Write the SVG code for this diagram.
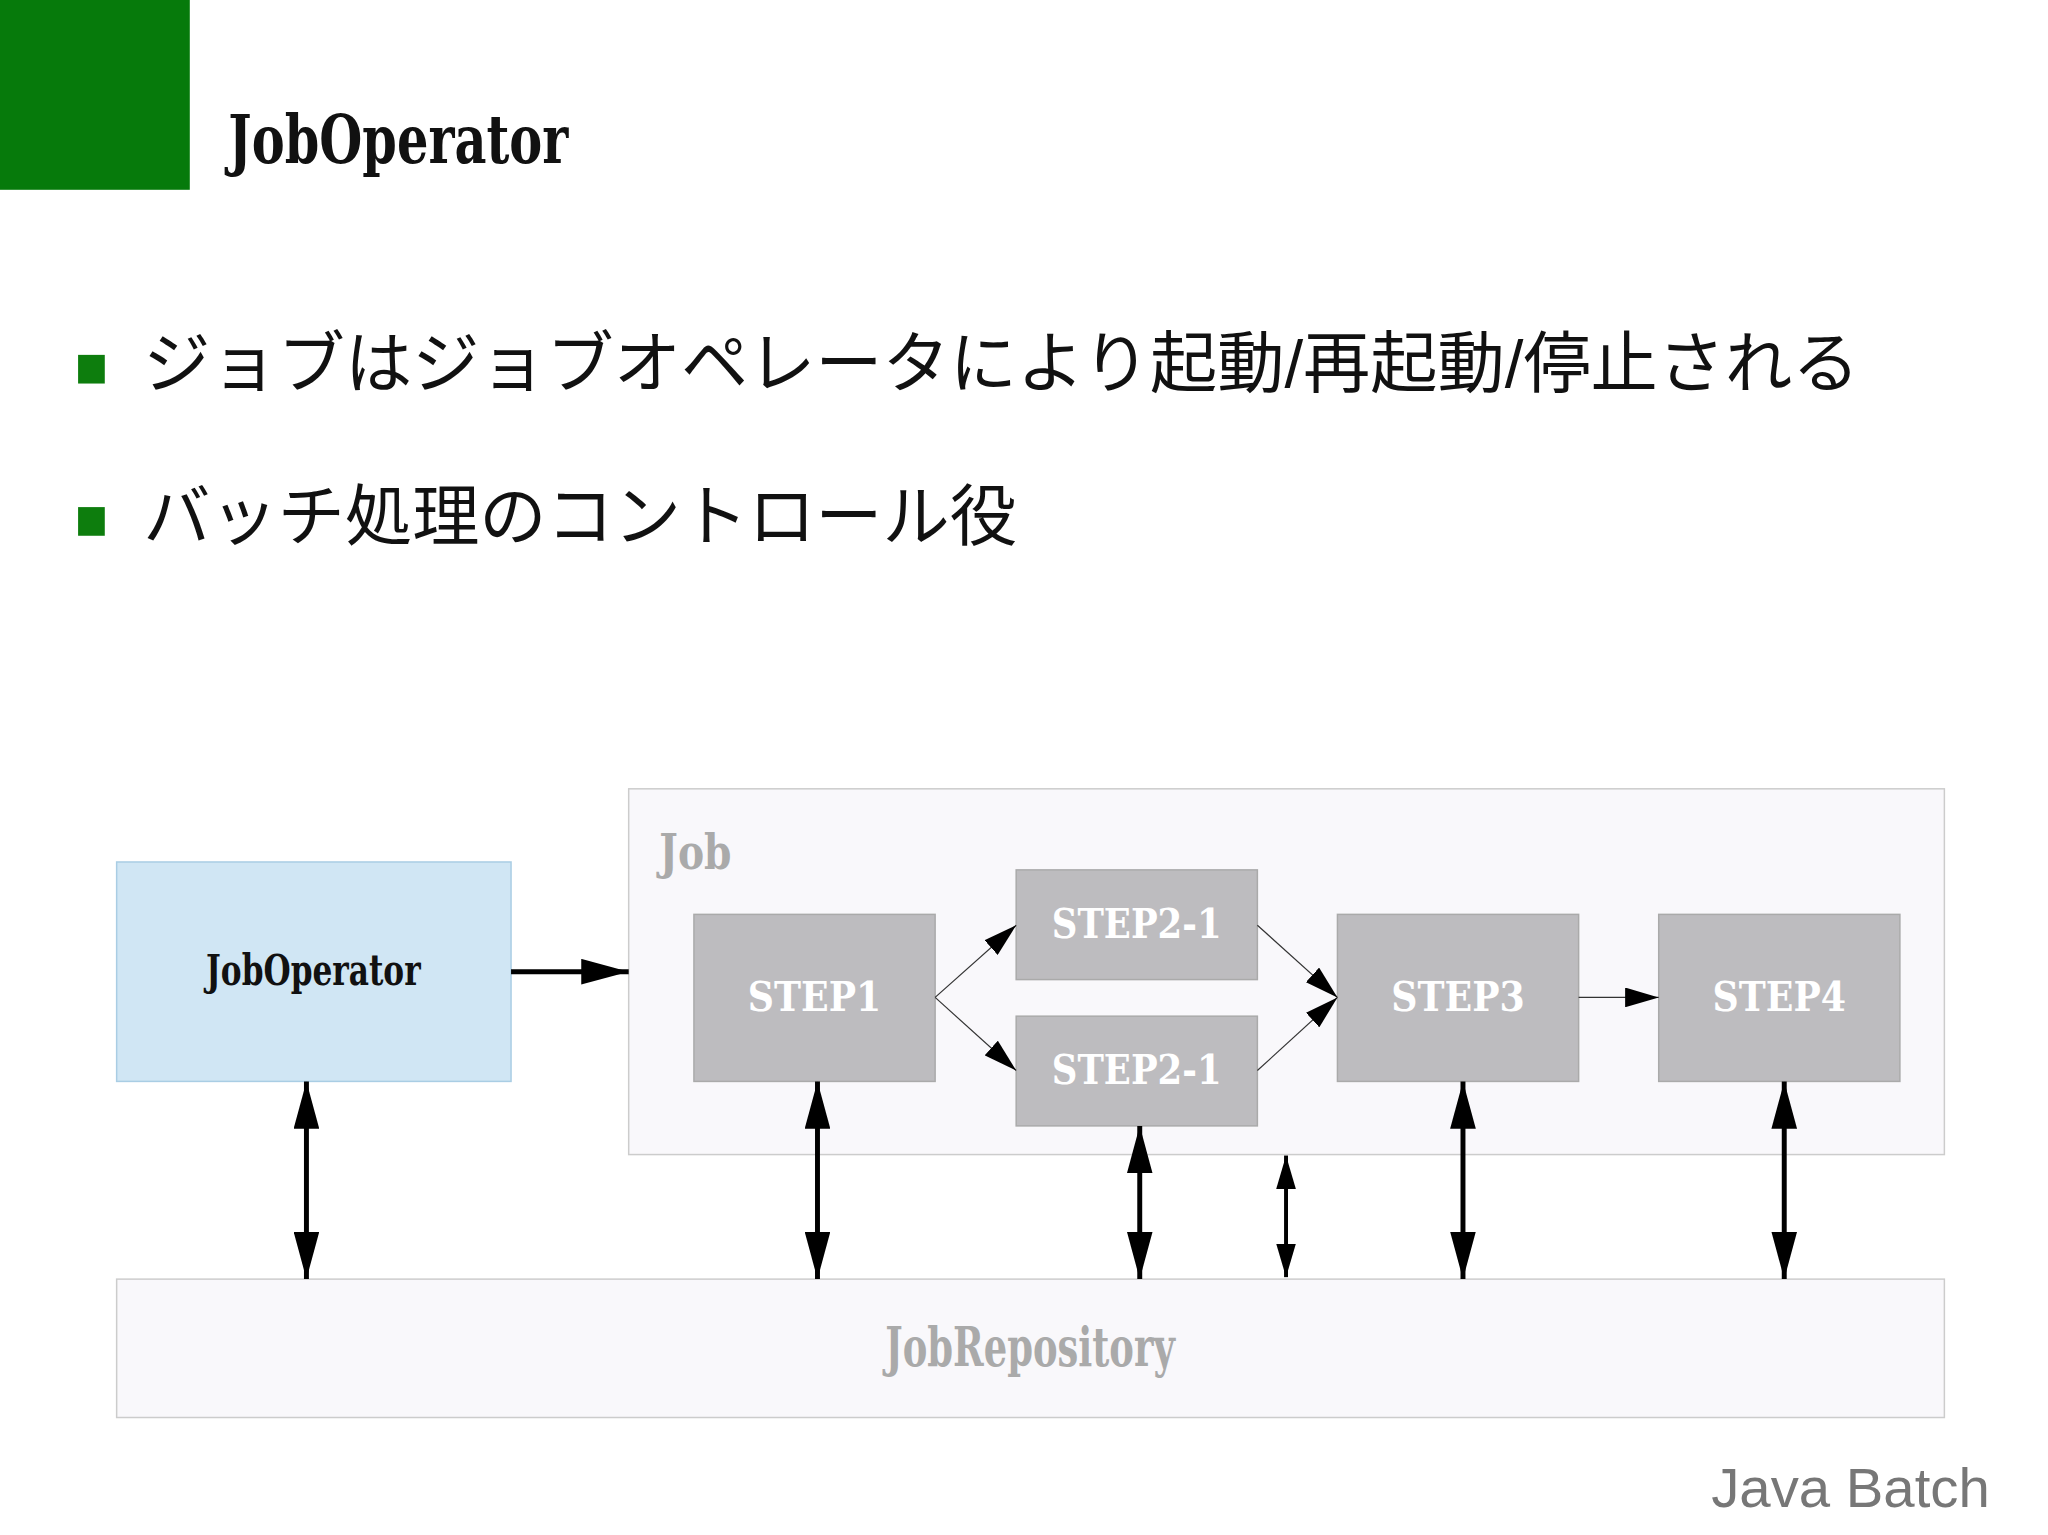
<svg xmlns="http://www.w3.org/2000/svg" width="2048" height="1535" viewBox="0 0 2048 1535">
<style>
.bl{font-family:"DejaVu Serif","Liberation Serif",serif;font-weight:bold}
.jp{font-family:"Liberation Sans","Noto Sans CJK JP",sans-serif;font-size:68px;fill:#111}
.step{fill:#bdbcbf;stroke:#aaa;stroke-width:1.5}
.st{font-family:"DejaVu Serif","Liberation Serif",serif;font-weight:bold;font-size:42px;fill:#fff;text-anchor:middle}
.thick{stroke:#000;stroke-width:5;fill:none}
.thin{stroke:#333;stroke-width:1.2;fill:none}
</style>
<defs>
<marker id="big" viewBox="0 0 48 26" refX="48" refY="13" markerWidth="48" markerHeight="26" markerUnits="userSpaceOnUse" orient="auto-start-reverse"><path d="M0,0L48,13L0,26z" fill="#000"/></marker>
<marker id="sm" viewBox="0 0 34 20" refX="34" refY="10" markerWidth="34" markerHeight="20" markerUnits="userSpaceOnUse" orient="auto-start-reverse"><path d="M0,0L34,10L0,20z" fill="#000"/></marker>
</defs>
<rect width="2048" height="1535" fill="#fff"/>
<g transform="scale(0.9885)">
<rect x="0" y="0" width="192" height="192" fill="#067a0b"/>
<text x="231" y="165" class="bl" font-size="68" fill="#111" textLength="344" lengthAdjust="spacingAndGlyphs">JobOperator</text>
<rect x="79" y="359" width="27" height="29" fill="#0d7d0d"/>
<text x="145" y="392" class="jp">ジョブはジョブオペレータにより起動/再起動/停止される</text>
<rect x="79" y="513" width="27" height="29" fill="#0d7d0d"/>
<text x="145" y="546" class="jp">バッチ処理のコントロール役</text>
<g id="job"><rect x="636" y="798" width="1331" height="370" fill="#f9f8fb" stroke="#ccc" stroke-width="1.5"/>
<text x="667" y="879" class="bl" font-size="50" fill="#aaa" textLength="73" lengthAdjust="spacingAndGlyphs">Job</text></g>
<g id="jobop"><rect x="118" y="872" width="399" height="222" fill="#d0e6f4" stroke="#a9cde4" stroke-width="1.5"/>
<text x="317" y="996" class="bl" font-size="44" fill="#111" text-anchor="middle" textLength="217" lengthAdjust="spacingAndGlyphs">JobOperator</text></g>
<g id="step1"><rect x="702" y="925" width="244" height="169" class="step"/><text x="824" y="1023" class="st" textLength="135" lengthAdjust="spacingAndGlyphs">STEP1</text></g>
<g id="step21a"><rect x="1028" y="880" width="244" height="111" class="step"/><text x="1150" y="949" class="st" textLength="172" lengthAdjust="spacingAndGlyphs">STEP2-1</text></g>
<g id="step21b"><rect x="1028" y="1028" width="244" height="111" class="step"/><text x="1150" y="1097" class="st" textLength="172" lengthAdjust="spacingAndGlyphs">STEP2-1</text></g>
<g id="step3"><rect x="1353" y="925" width="244" height="169" class="step"/><text x="1475" y="1023" class="st" textLength="135" lengthAdjust="spacingAndGlyphs">STEP3</text></g>
<g id="step4"><rect x="1678" y="925" width="244" height="169" class="step"/><text x="1800" y="1023" class="st" textLength="135" lengthAdjust="spacingAndGlyphs">STEP4</text></g>
<g id="repo"><rect x="118" y="1294" width="1849" height="140" fill="#f9f8fb" stroke="#ccc" stroke-width="1.5"/>
<text x="1042" y="1382" class="bl" font-size="54" fill="#aaa" text-anchor="middle" textLength="293" lengthAdjust="spacingAndGlyphs">JobRepository</text></g>
<g id="connectors">
<line x1="517" y1="983" x2="636" y2="983" class="thick" marker-end="url(#big)"/>
<line x1="946" y1="1009" x2="1028" y2="936" class="thin" marker-end="url(#sm)"/>
<line x1="946" y1="1009" x2="1028" y2="1083" class="thin" marker-end="url(#sm)"/>
<line x1="1272" y1="936" x2="1353" y2="1009" class="thin" marker-end="url(#sm)"/>
<line x1="1272" y1="1083" x2="1353" y2="1009" class="thin" marker-end="url(#sm)"/>
<line x1="1597" y1="1009" x2="1678" y2="1009" class="thin" marker-end="url(#sm)"/>
<line x1="310" y1="1094" x2="310" y2="1294" class="thick" marker-start="url(#big)" marker-end="url(#big)"/>
<line x1="827" y1="1094" x2="827" y2="1294" class="thick" marker-start="url(#big)" marker-end="url(#big)"/>
<line x1="1153" y1="1139" x2="1153" y2="1294" class="thick" marker-start="url(#big)" marker-end="url(#big)"/>
<line x1="1301" y1="1169" x2="1301" y2="1292" stroke="#000" stroke-width="4" marker-start="url(#sm)" marker-end="url(#sm)"/>
<line x1="1480" y1="1094" x2="1480" y2="1294" class="thick" marker-start="url(#big)" marker-end="url(#big)"/>
<line x1="1805" y1="1094" x2="1805" y2="1294" class="thick" marker-start="url(#big)" marker-end="url(#big)"/>
</g>
<text x="2013" y="1525" font-family="Liberation Sans,sans-serif" font-size="57" fill="#777" text-anchor="end">Java Batch</text>
</g>
</svg>
